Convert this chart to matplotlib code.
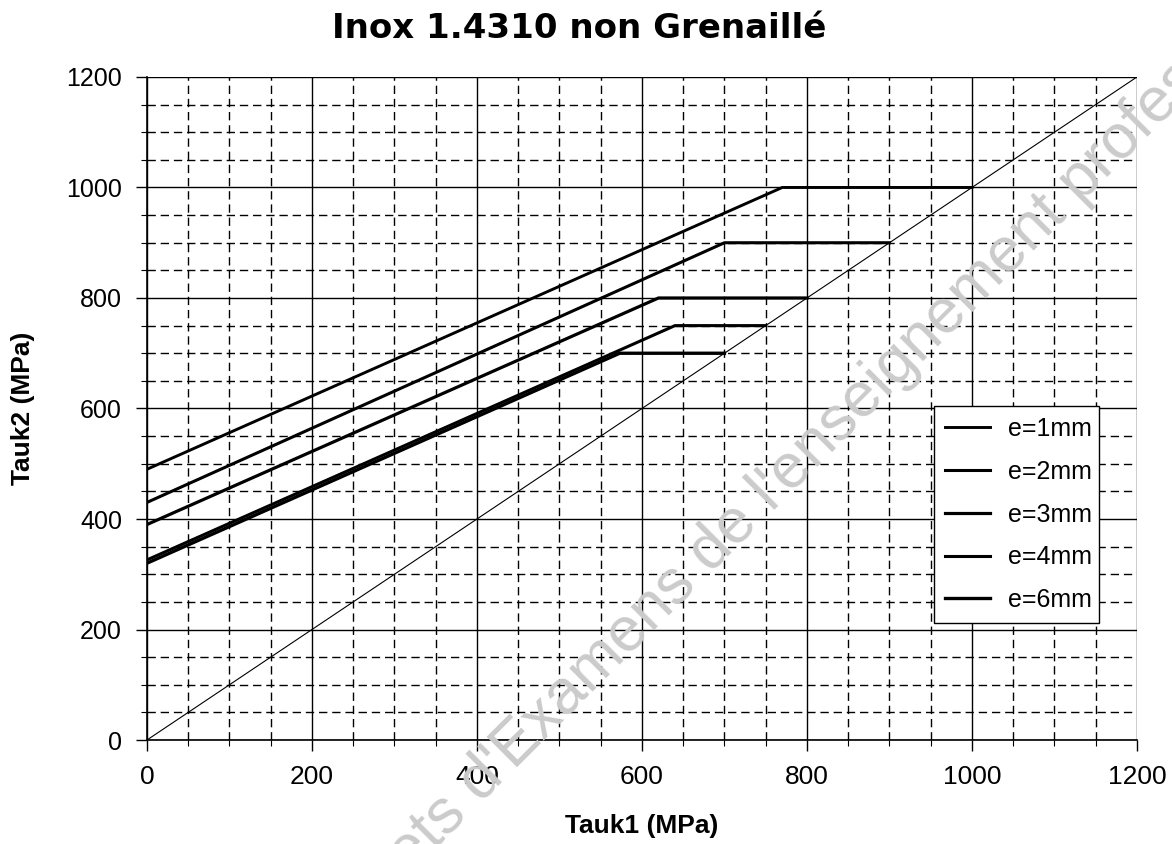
import matplotlib
matplotlib.use('Agg')
import matplotlib.pyplot as plt
from matplotlib.ticker import MultipleLocator

plt.rcParams['font.family'] = ['Liberation Sans', 'DejaVu Sans']

# each curve: start on the Tauk2 axis, knee, end on the diagonal
labels = ['e=1mm', 'e=2mm', 'e=3mm', 'e=4mm', 'e=6mm']
x_pts = [[0, 770, 1000], [0, 700, 900], [0, 620, 800], [0, 640, 750], [0, 573, 700]]
y_pts = [[490, 1000, 1000], [430, 900, 900], [390, 800, 800], [326, 750, 750], [320, 700, 700]]
widths = [2.1, 2.2, 2.3, 2.2, 2.4]
diag = [0, 1200]

fig = plt.figure(figsize=(11.72, 8.44), dpi=100)
ax = fig.add_axes([0.1254, 0.1232, 0.8447, 0.7856])

ax.plot(diag, diag, color='black', lw=0.8)
for xs, ys, lab, w in zip(x_pts, y_pts, labels, widths):
    ax.plot(xs, ys, color='black', lw=w, label=lab)

ax.set_xlim(0, 1200)
ax.set_ylim(0, 1200)
ax.xaxis.set_major_locator(MultipleLocator(200))
ax.yaxis.set_major_locator(MultipleLocator(200))
ax.xaxis.set_minor_locator(MultipleLocator(50))
ax.yaxis.set_minor_locator(MultipleLocator(50))
ax.grid(which='major', color='black', lw=1.0, ls='-')
ax.grid(which='minor', color='black', lw=1.0, ls=(0, (6, 3.5)))
ax.set_axisbelow(True)
ax.tick_params(which='major', direction='out', length=8, width=1, labelsize=18, pad=10)
ax.tick_params(axis='x', which='major', labelsize=19)
ax.tick_params(which='minor', direction='out', length=4, width=0.8)
for s in ax.spines.values():
    s.set_linewidth(1.2)
for side in ['top', 'right']:
    ax.spines[side].set_visible(False)

ax.set_title('Inox 1.4310 non Grenaillé', fontsize=24.5, fontweight='bold', pad=28,
             family=['DejaVu Sans'], x=0.437)
ax.set_xlabel('Tauk1 (MPa)', fontsize=19, fontweight='bold')
ax.xaxis.set_label_coords(0.5, -0.112)
ax.set_ylabel('Tauk2 (MPa)', fontsize=19, fontweight='bold')
ax.yaxis.set_label_coords(-0.113, 0.5)

leg = ax.legend(loc='center', bbox_to_anchor=(0.795, 0.178, 0.167, 0.324), mode='expand',
                fontsize=18, frameon=True, fancybox=False, edgecolor='black',
                handlelength=1.8, handletextpad=0.7, labelspacing=0.75, borderpad=0.45,
                borderaxespad=0, framealpha=1)
leg.get_frame().set_linewidth(1.0)

# watermark crossing the page
fig.text(346 / 1172, 1 - 939 / 844, "Sujets d'Examens de l'enseignement professionnel",
         rotation=45, fontsize=45, color='#cbcbcb', ha='left', va='baseline',
         rotation_mode='anchor', zorder=0)

fig.savefig('out.png', dpi=100)
